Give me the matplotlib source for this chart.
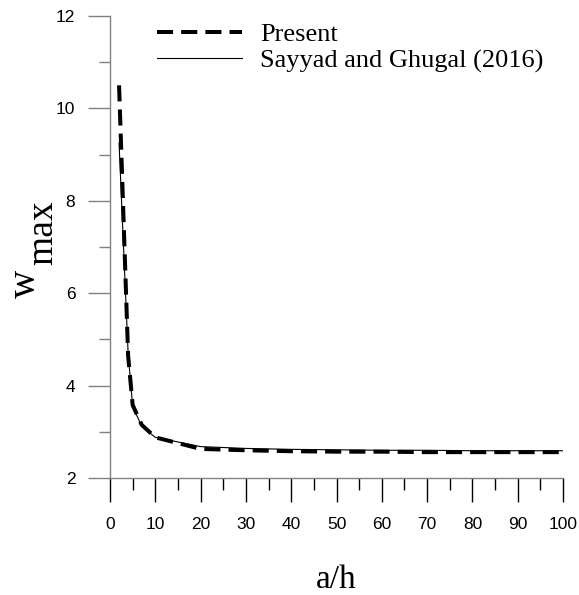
import numpy as np
import matplotlib
matplotlib.use('Agg')
import matplotlib.pyplot as plt
from matplotlib.ticker import MultipleLocator

# data
ah = [2, 4, 5, 7, 10, 20, 30, 40, 50, 60, 70, 80, 90, 100]
w_present = [10.5, 4.65, 3.58, 3.15, 2.88, 2.63, 2.6, 2.58, 2.57, 2.57, 2.56, 2.56, 2.56, 2.56]
w_sayyad = [9.25, 4.7, 3.55, 3.12, 2.88, 2.68, 2.64, 2.62, 2.61, 2.6, 2.6, 2.59, 2.59, 2.59]

W, H = 579, 595
fig = plt.figure(figsize=(W/100, H/100), dpi=100)
ax = fig.add_axes([110/W, 1-478/H, 453/W, 462/H])

ax.plot(ah, w_sayyad, color='black', lw=0.8, label='Sayyad and Ghugal (2016)')
ax.plot(ah, w_present, color='black', lw=2.9, dashes=(4, 2), label='Present')

ax.set_xlim(0, 100)
ax.set_ylim(2, 12)
ax.xaxis.set_major_locator(MultipleLocator(10))
ax.xaxis.set_minor_locator(MultipleLocator(5))
ax.yaxis.set_major_locator(MultipleLocator(2))
ax.yaxis.set_minor_locator(MultipleLocator(1))

for s in ['top', 'right']:
    ax.spines[s].set_visible(False)
for s in ['left', 'bottom']:
    ax.spines[s].set_color('#808080')
    ax.spines[s].set_linewidth(1.0)

ax.tick_params(axis='x', which='major', direction='out', length=17, width=1, color='black', pad=11,
               labelsize=12.5)
ax.tick_params(axis='x', which='minor', direction='out', length=8.6, width=1, color='black')
ax.tick_params(axis='y', which='major', direction='out', length=16, width=1, color='#808080', pad=9,
               labelsize=12.5)
ax.tick_params(axis='y', which='minor', direction='out', length=8, width=1, color='#808080')
for lab in ax.get_xticklabels() + ax.get_yticklabels():
    lab.set_fontfamily('Liberation Sans')

ax.set_xlabel('a/h', fontfamily='Liberation Serif', fontsize=24)
ax.xaxis.set_label_coords(0.5, -0.188)

# y label: "w" with a full-size, lowered "max"
fig.text(35/W, 1-298/H, 'w', rotation=90, rotation_mode='anchor', ha='left', va='baseline',
         fontfamily='Liberation Serif', fontsize=28)
fig.text(52/W, 1-265/H, 'max', rotation=90, rotation_mode='anchor', ha='left', va='baseline',
         fontfamily='Liberation Serif', fontsize=27)

h, l = ax.get_legend_handles_labels()
leg = ax.legend(h[::-1], l[::-1], loc='upper left', bbox_to_anchor=(0.104, 0.985),
                frameon=False, prop={'family': 'Liberation Serif', 'size': 19},
                handlelength=3.2, handletextpad=0.7, labelspacing=0.1,
                borderpad=0, borderaxespad=0)

fig.savefig('out.png', dpi=100)
